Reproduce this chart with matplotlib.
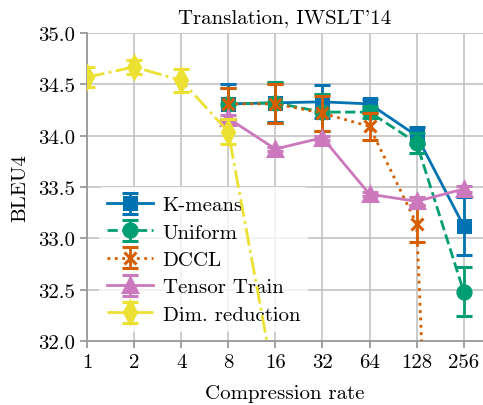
import numpy as np
import matplotlib
matplotlib.use("Agg")
import matplotlib.pyplot as plt

# compression rates and BLEU4 (mean, std)
rates = [1, 2, 4, 8, 16, 32, 64, 128, 256]

kmeans_x = [8, 16, 32, 64, 128, 256]
kmeans_y = [34.31, 34.32, 34.33, 34.31, 34.00, 33.12]
kmeans_err = [0.19, 0.19, 0.16, 0.05, 0.08, 0.28]

uniform_x = [8, 16, 32, 64, 128, 256]
uniform_y = [34.31, 34.32, 34.23, 34.23, 33.93, 32.48]
uniform_err = [0.15, 0.20, 0.18, 0.06, 0.10, 0.24]

dccl_x = [8, 16, 32, 64, 128, 256]
dccl_y = [34.31, 34.31, 34.22, 34.09, 33.14, 22.3]
dccl_err = [0.15, 0.19, 0.17, 0.13, 0.18, 0.2]

tt_x = [8, 16, 32, 64, 128, 256]
tt_y = [34.17, 33.87, 33.98, 33.43, 33.36, 33.48]
tt_err = [0.03, 0.02, 0.02, 0.02, 0.04, 0.03]

dim_x = [1, 2, 4, 8, 16]
dim_y = [34.57, 34.67, 34.54, 34.04, 31.55]
dim_err = [0.10, 0.07, 0.11, 0.12, 0.1]

plt.rcParams["font.family"] = ["cmr10", "DejaVu Serif"]
plt.rcParams["mathtext.fontset"] = "cm"
plt.rcParams["axes.formatter.use_mathtext"] = True
plt.rcParams["font.size"] = 15

fig = plt.figure(figsize=(4.83, 4.06), dpi=100)
ax = fig.add_axes([0.180, 0.158, 0.82, 0.758])

series = [
    ("K-means", kmeans_x, kmeans_y, kmeans_err, "#0173B2", "s", "-", 8.5),
    ("Uniform", uniform_x, uniform_y, uniform_err, "#029E73", "o", "--", 9.5),
    ("DCCL", dccl_x, dccl_y, dccl_err, "#D55E00", "x", ":", 9),
    ("Tensor Train", tt_x, tt_y, tt_err, "#CC78BC", "^", "-", 9.5),
    ("Dim. reduction", dim_x, dim_y, dim_err, "#ECE133", "d", "-.", 11),
]

for i, (name, xs, ys, es, c, m, ls, ms) in enumerate(series):
    eb = ax.errorbar(
        xs, ys, yerr=es,
        color=c, marker=m, linestyle=ls, linewidth=2,
        markersize=ms, markeredgewidth=2.2,
        capsize=6, capthick=2, elinewidth=2,
        label=name, zorder=3 + i,
    )
    eb[-1][0].set_linestyle("-")

ax.set_xscale("log", base=2)
ax.set_xlim(1, 2 ** 8.41)
ax.set_ylim(32.0, 35.0)
ax.set_xticks(rates)
ax.set_xticklabels([str(r) for r in rates])
ax.minorticks_off()
ax.set_yticks(np.arange(32.0, 35.01, 0.5))
ax.set_yticklabels(["%.1f" % v for v in np.arange(32.0, 35.01, 0.5)])

ax.grid(True, color="#c4c4c4", linewidth=1.2)
ax.set_axisbelow(True)
for s in ["top", "right"]:
    ax.spines[s].set_visible(False)
for s in ["left", "bottom"]:
    ax.spines[s].set_color("#999999")
    ax.spines[s].set_linewidth(1.3)
ax.tick_params(color="#999999", width=1.3, length=5)

ax.set_title("Translation, IWSLT'14", fontsize=15, pad=8)
ax.set_xlabel("Compression rate", labelpad=10)
ax.set_ylabel("BLEU4", labelpad=6)

leg = ax.legend(
    loc="lower left", bbox_to_anchor=(0.02, 0.015),
    frameon=True, framealpha=0.8, edgecolor="none",
    handlelength=2.2, handletextpad=0.45, labelspacing=0.42, borderaxespad=0.2,
)

fig.savefig("out.png", dpi=100)
